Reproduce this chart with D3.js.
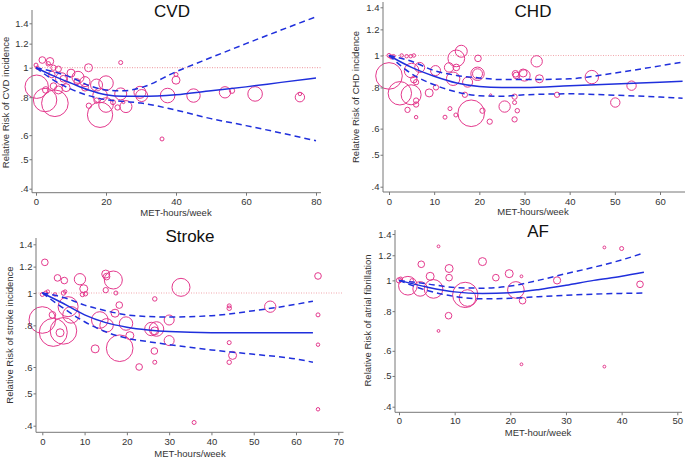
<!DOCTYPE html>
<meta charset="utf-8">
<script src="https://d3js.org/d3.v7.min.js"></script>
<style>
  body { margin: 0; background: #fff; }
  text { font-family: "Liberation Sans", Arial, sans-serif; }
</style>
<div id="vis"></div>

<script>

    // ---- data: [MET-h/week, relative risk, study weight] ----
    var cvdStudies = [
        [0, 1.02, 4], [0.4, 1.0, 3], [1.8, 1.06, 11], [4, 1.05, 14], [3.5, 1.03, 5],
        [5, 1.0, 7], [6.4, 0.99, 9], [4.5, 0.95, 11], [7.3, 0.92, 36], [10, 0.96, 16],
        [12, 0.93, 36], [15, 1.0, 16], [17.3, 0.877, 36], [20, 0.89, 53], [18.3, 0.81, 53],
        [20, 0.754, 53], [18.3, 0.70, 160], [15.1, 0.75, 7], [17.3, 0.78, 7], [24.2, 1.04, 4],
        [24.2, 0.82, 36], [25.7, 0.745, 36], [23.3, 0.74, 7], [29.7, 0.83, 36], [30.2, 0.81, 36],
        [40, 0.91, 16], [40, 0.95, 4], [37.6, 0.81, 53], [36, 0.583, 4], [45, 0.81, 45],
        [54, 0.83, 32], [56, 0.84, 7], [62.6, 0.82, 53], [75.4, 0.80, 22], [75.4, 0.82, 3],
        [0.2, 0.866, 137], [2.6, 0.783, 137], [5.4, 0.764, 177], [2.8, 0.845, 11], [5, 0.87, 11],
        [6.4, 0.845, 16], [8.6, 0.86, 16], [7.8, 0.92, 11], [14, 0.90, 25], [11.7, 0.90, 9],
        [14, 0.86, 12], [22, 0.77, 6], [25, 0.77, 2]
    ];
    var chdStudies = [
        [0, 1.0, 4], [0.5, 0.99, 4], [1, 0.995, 3], [2.8, 1.0, 3], [3.9, 0.995, 3],
        [4.8, 0.995, 3], [5.5, 1.0, 3], [0, 0.867, 177], [2.4, 0.768, 137], [4.9, 0.76, 100],
        [5, 0.90, 53], [6.8, 0.92, 25], [5.5, 0.845, 11], [6, 0.83, 7], [6, 0.73, 7],
        [6, 0.71, 7], [4.1, 0.684, 7], [6, 0.65, 3], [8.9, 0.77, 16], [10.4, 0.80, 7],
        [10.3, 0.90, 25], [12.4, 0.65, 4], [13.5, 0.69, 4], [14.8, 0.66, 4], [13.3, 0.92, 22],
        [14.2, 0.85, 45], [14.9, 0.98, 70], [16, 1.03, 36], [14.9, 0.92, 11], [17.4, 0.83, 25],
        [16.8, 0.76, 7], [18.2, 0.668, 177], [19.6, 0.88, 45], [19.6, 0.88, 25], [19.7, 0.98, 11],
        [20.7, 0.68, 7], [22.3, 0.63, 7], [22.5, 0.76, 1], [25.6, 0.70, 32], [28, 0.88, 11],
        [28.2, 0.87, 11], [27.8, 0.75, 7], [27.8, 0.72, 4], [28.4, 0.68, 5], [27.8, 0.64, 7],
        [30, 0.87, 32], [29.7, 0.885, 16], [32.7, 0.96, 32], [33.3, 0.85, 16], [37.2, 0.76, 7],
        [44.9, 0.86, 45], [50.1, 0.72, 22], [53.7, 0.81, 22]
    ];
    var strokeStudies = [
        [0.6, 1.236, 11], [0, 0.99, 4], [0.8, 1.0, 4], [1.3, 1.01, 3], [3, 0.99, 3],
        [5, 1.0, 5], [5.4, 1.01, 3], [3.6, 1.11, 11], [5.2, 1.09, 11], [0, 0.83, 177],
        [2.6, 0.762, 196], [5, 0.77, 177], [6.1, 0.91, 100], [6.8, 0.86, 69], [4.2, 0.76, 16],
        [2.4, 0.86, 11], [8.9, 1.10, 32], [9.8, 1.03, 16], [9.5, 0.99, 5], [10.2, 0.995, 5],
        [15, 1.14, 16], [15.2, 1.12, 11], [16.8, 1.094, 81], [15, 1.02, 7], [17.4, 1.0, 4],
        [12.5, 0.68, 16], [13.6, 0.83, 69], [15.2, 0.80, 45], [17.2, 0.87, 16], [18.2, 0.92, 11],
        [19.8, 0.81, 45], [18.3, 0.683, 177], [20.7, 0.745, 16], [22.9, 0.60, 11], [25.8, 0.78, 45],
        [27, 0.78, 53], [26.6, 0.77, 16], [26.6, 0.96, 5], [26.5, 0.67, 11], [26.6, 0.62, 4],
        [30, 0.83, 25], [30, 0.72, 25], [32.8, 1.04, 81], [35.9, 0.409, 4], [44.2, 0.915, 4],
        [44.2, 0.90, 5], [44.2, 0.71, 4], [44.2, 0.62, 5], [45, 0.65, 16], [53.9, 0.91, 32],
        [65.2, 1.125, 11], [65.2, 0.86, 4], [65.2, 0.70, 3], [65.2, 0.448, 3]
    ];
    var afStudies = [
        [0, 1.0, 7], [0.3, 1.01, 4], [1.6, 0.962, 87], [2.3, 1.0, 3], [3.8, 0.94, 53],
        [4, 1.124, 11], [5.6, 1.03, 16], [6.2, 0.94, 87], [7.1, 1.28, 2], [7.1, 0.693, 2],
        [9, 1.09, 16], [9, 1.02, 11], [8.9, 0.774, 11], [11.9, 0.90, 160], [12.3, 0.88, 69],
        [15, 1.146, 16], [17.4, 1.02, 11], [19.8, 1.05, 16], [21, 0.933, 69], [22, 1.03, 2],
        [22.2, 0.863, 11], [22, 0.544, 2], [28.4, 1.0, 13], [36.9, 1.27, 2], [36.9, 0.535, 2],
        [40, 1.26, 4], [43.3, 0.972, 11]
    ];

    // ---- fitted dose-response curves with 95% CI ----
    var cvdGrid  = [0, 5, 10, 15, 20, 25, 30, 40, 50, 60, 70, 80];
    var cvdFit   = [1.0, 0.94, 0.89, 0.845, 0.815, 0.805, 0.805, 0.815, 0.84, 0.865, 0.895, 0.925];
    var cvdUpper = [1.0, 0.97, 0.93, 0.875, 0.845, 0.84, 0.86, 0.97, 1.08, 1.20, 1.33, 1.47];
    var cvdLower = [1.0, 0.91, 0.85, 0.81, 0.785, 0.775, 0.765, 0.725, 0.68, 0.645, 0.61, 0.575];

    var chdGrid  = [0, 5, 10, 15, 20, 25, 30, 40, 50, 60, 65];
    var chdFit   = [1.0, 0.92, 0.865, 0.825, 0.805, 0.80, 0.80, 0.81, 0.82, 0.83, 0.835];
    var chdUpper = [1.0, 0.96, 0.90, 0.87, 0.855, 0.845, 0.845, 0.85, 0.885, 0.93, 0.955];
    var chdLower = [1.0, 0.88, 0.815, 0.775, 0.755, 0.752, 0.76, 0.765, 0.758, 0.748, 0.742];

    var strokeGrid  = [0, 5, 10, 15, 20, 25, 30, 40, 50, 60, 64];
    var strokeFit   = [1.0, 0.93, 0.86, 0.815, 0.79, 0.775, 0.766, 0.76, 0.76, 0.76, 0.76];
    var strokeUpper = [1.0, 0.97, 0.92, 0.885, 0.86, 0.85, 0.847, 0.855, 0.885, 0.925, 0.945];
    var strokeLower = [1.0, 0.90, 0.82, 0.765, 0.732, 0.715, 0.70, 0.675, 0.655, 0.634, 0.62];

    var afGrid  = [0, 5, 10, 15, 20, 25, 30, 35, 40, 44];
    var afFit   = [1.0, 0.953, 0.92, 0.91, 0.915, 0.935, 0.965, 1.0, 1.03, 1.06];
    var afUpper = [1.0, 0.975, 0.95, 0.945, 0.96, 1.0, 1.05, 1.10, 1.16, 1.22];
    var afLower = [1.0, 0.93, 0.89, 0.875, 0.878, 0.888, 0.898, 0.905, 0.91, 0.912];

    // ---- axis ticks and labels ----
    var yTickValues = [0.4, 0.5, 0.6, 0.8, 1, 1.2, 1.4];
    var yTickLabels = [".4", ".5", ".6", ".8", "1", "1.2", "1.4"];

    var panels = [
        { title: "CVD", studies: cvdStudies, grid: cvdGrid, fit: cvdFit, upper: cvdUpper, lower: cvdLower,
          xTicks: [0, 20, 40, 60, 80], xLabel: "MET-hours/week", yLabel: "Relative Risk of CVD incidence",
          refLine: true },
        { title: "CHD", studies: chdStudies, grid: chdGrid, fit: chdFit, upper: chdUpper, lower: chdLower,
          xTicks: [0, 10, 20, 30, 40, 50, 60], xLabel: "MET-hours/week", yLabel: "Relative Risk of CHD incidence",
          refLine: true },
        { title: "Stroke", studies: strokeStudies, grid: strokeGrid, fit: strokeFit, upper: strokeUpper, lower: strokeLower,
          xTicks: [0, 10, 20, 30, 40, 50, 60, 70], xLabel: "MET-hours/week", yLabel: "Relative Risk of stroke incidence",
          refLine: true },
        { title: "AF", studies: afStudies, grid: afGrid, fit: afFit, upper: afUpper, lower: afLower,
          xTicks: [0, 10, 20, 30, 40, 50], xLabel: "MET-hour/week", yLabel: "Relative Risk of atrial fibrillation",
          refLine: false }
    ];

    // ---- where each panel sits on the page (pixels) ----
    var layout = [
        { x0: 36,  x1: 316,   y04: 188.7, y14: 23.3,  axL: 32,  axR: 321, axT: 10,  axB: 192.7, tickPad: 3,
          titleX: 172, titleY: 16.7, xlabX: 176, xlabY: 215.5, ylabX: 6,   ylabY: 102.5 },
        { x0: 389, x1: 660,   y04: 186.7, y14: 7.3,   axL: 383, axR: 685, axT: 2,   axB: 192, tickPad: 3,
          titleX: 533, titleY: 16.7, xlabX: 533, xlabY: 215,   ylabX: 356, ylabY: 97 },
        { x0: 42.3, x1: 338.3, y04: 425.7, y14: 244.3, axL: 36, axR: 343.5, axT: 238, axB: 432.3, tickPad: 3,
          titleX: 190, titleY: 241.7, xlabX: 190, xlabY: 456.5, ylabX: 10, ylabY: 335 },
        { x0: 399, x1: 677.3, y04: 406.7, y14: 234,   axL: 395, axR: 682, axT: 230, axB: 412.3, tickPad: 1.5,
          titleX: 538, titleY: 237, xlabX: 538, xlabY: 436, ylabX: 368, ylabY: 320.5 }
    ];

    var width = 685, height = 460;
    var bubbleColor = "#e4398d", lineColor = "#1f2fdc", refColor = "#f2a8ae", axisColor = "#777";

    var svg = d3.select("#vis")
        .append("svg")
        .attr("width", width)
        .attr("height", height);

    // study weight -> bubble radius
    var r = d3.scaleSqrt().domain([0, 196]).range([0, 14]);

    panels.forEach(function(p, i) {
        var L = layout[i];
        var xMax = p.xTicks[p.xTicks.length - 1];

        var x = d3.scaleLinear().domain([0, xMax]).range([L.x0, L.x1]);
        var y = d3.scaleLog().domain([0.4, 1.4]).range([L.y04, L.y14]);

        var g = svg.append("g");

        // dotted line at RR = 1
        if (p.refLine) {
            g.append("line")
                .attr("x1", L.axL).attr("x2", L.axR)
                .attr("y1", y(1)).attr("y2", y(1))
                .style("stroke", refColor)
                .style("stroke-width", 1.2)
                .style("stroke-dasharray", "1,1.5");
        }

        // study bubbles
        g.selectAll("circle")
            .data(p.studies)
            .enter()
            .append("circle")
            .attr("cx", function(d) { return x(d[0]); })
            .attr("cy", function(d) { return y(d[1]); })
            .attr("r", function(d) { return r(d[2]); })
            .style("fill", "none")
            .style("stroke", bubbleColor)
            .style("stroke-width", 1);

        // fit + CI
        var pts = function(vals) { return p.grid.map(function(gx, k) { return [gx, vals[k]]; }); };
        var line = d3.line()
            .x(function(d) { return x(d[0]); })
            .y(function(d) { return y(d[1]); })
            .curve(d3.curveMonotoneX);

        [p.upper, p.lower].forEach(function(vals) {
            g.append("path")
                .attr("d", line(pts(vals)))
                .style("fill", "none")
                .style("stroke", lineColor)
                .style("stroke-width", 1.5)
                .style("stroke-dasharray", "6,4");
        });
        g.append("path")
            .attr("d", line(pts(p.fit)))
            .style("fill", "none")
            .style("stroke", lineColor)
            .style("stroke-width", 1.5);

        // axes
        var xAxis = g.append("g")
            .attr("transform", "translate(0," + L.axB + ")")
            .call(d3.axisBottom(x).tickValues(p.xTicks).tickSize(3).tickPadding(L.tickPad).tickFormat(d3.format("d")));
        var yAxis = g.append("g")
            .attr("transform", "translate(" + L.axL + ",0)")
            .call(d3.axisLeft(y).tickValues(yTickValues).tickSize(2.5).tickPadding(1)
                .tickFormat(function(d, k) { return yTickLabels[k]; }));

        [xAxis, yAxis].forEach(function(a) {
            a.select(".domain").remove();
            a.selectAll("line").style("stroke", axisColor);
            a.selectAll("text").style("fill", "#333").style("font-size", "9.5px")
                .style("font-family", "'Liberation Sans', Arial, sans-serif");
        });

        g.append("line")
            .attr("x1", L.axL).attr("x2", L.axR).attr("y1", L.axB).attr("y2", L.axB)
            .style("stroke", axisColor);
        g.append("line")
            .attr("x1", L.axL).attr("x2", L.axL).attr("y1", L.axT).attr("y2", L.axB)
            .style("stroke", axisColor);

        // titles
        g.append("text")
            .attr("x", L.titleX).attr("y", L.titleY)
            .attr("text-anchor", "middle")
            .style("font-size", "17px")
            .style("fill", "#111")
            .text(p.title);
        g.append("text")
            .attr("x", L.xlabX).attr("y", L.xlabY)
            .attr("text-anchor", "middle")
            .style("font-size", "9.5px")
            .style("fill", "#333")
            .text(p.xLabel);
        g.append("text")
            .attr("transform", "translate(" + (L.ylabX + 3.3) + "," + L.ylabY + ") rotate(-90)")
            .attr("text-anchor", "middle")
            .style("font-size", "9.5px")
            .style("fill", "#333")
            .text(p.yLabel);
    });

</script>
